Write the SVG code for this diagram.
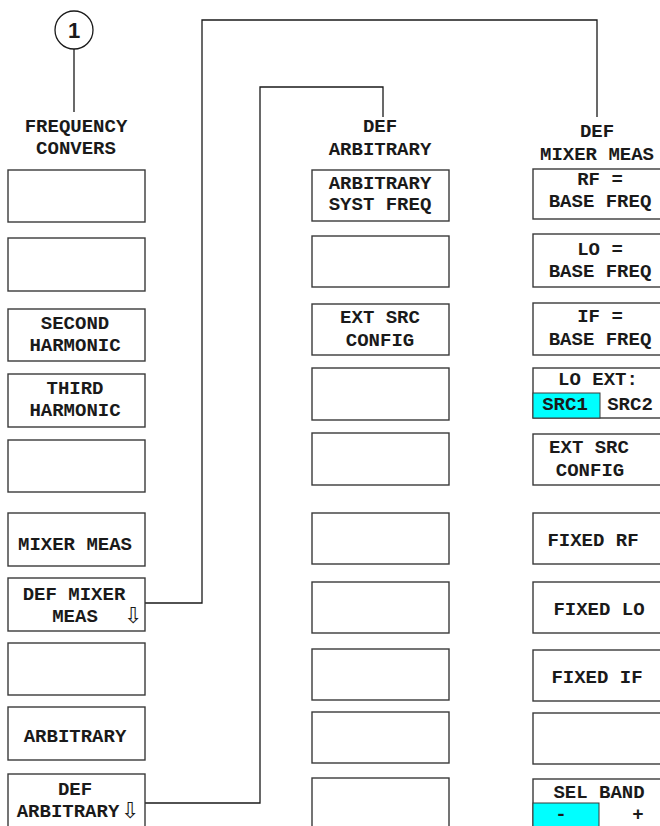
<svg xmlns="http://www.w3.org/2000/svg" width="660" height="826" viewBox="0 0 660 826">
<style>
.box{fill:#fff;stroke:#3a3a3a;stroke-width:1.4}
.t{font-family:"Liberation Mono","Courier New",monospace;font-weight:bold;font-size:19px;fill:#1a1a1a;text-anchor:middle}
.a{font-family:"DejaVu Sans",sans-serif;font-size:22px;fill:#1a1a1a;text-anchor:middle}
.hl{fill:#00ffff;stroke:#3a3a3a;stroke-width:1}
.c{fill:none;stroke:#1a1a1a;stroke-width:1.3}
</style>
<rect width="660" height="826" fill="#fff"/>
<g id="marker1">
<circle cx="74" cy="30" r="19" fill="#fff" stroke="#1a1a1a" stroke-width="1.3"/>
<text x="74" y="38" font-family="Liberation Sans,Arial,sans-serif" font-weight="bold" font-size="22" text-anchor="middle" fill="#1a1a1a">1</text>
<line x1="74" y1="49" x2="74" y2="112" stroke="#1a1a1a" stroke-width="1.3"/>
</g>
<g id="connectors">
<polyline class="c" points="145,603 202,603 202,20 597,20 597,117"/>
<polyline class="c" points="145,803 260,803 260,87 383,87 383,117"/>
</g>
<g id="title-freq"><text class="t" x="76" y="132">FREQUENCY</text><text class="t" x="76" y="154">CONVERS</text></g>
<g id="title-defarb"><text class="t" x="380" y="132">DEF</text><text class="t" x="380" y="155">ARBITRARY</text></g>
<g id="title-defmix"><text class="t" x="597" y="137">DEF</text><text class="t" x="597" y="160">MIXER MEAS</text></g>
<!-- left column -->
<g id="l1"><rect class="box" x="8" y="170" width="137" height="52"/></g>
<g id="l2"><rect class="box" x="8" y="238" width="137" height="53"/></g>
<g id="l3"><rect class="box" x="8" y="309" width="137" height="52"/><text class="t" x="75" y="329">SECOND</text><text class="t" x="75" y="351">HARMONIC</text></g>
<g id="l4"><rect class="box" x="8" y="374" width="137" height="53"/><text class="t" x="75" y="394">THIRD</text><text class="t" x="75" y="416">HARMONIC</text></g>
<g id="l5"><rect class="box" x="8" y="440" width="137" height="52"/></g>
<g id="l6"><rect class="box" x="8" y="513" width="137" height="53"/><text class="t" x="75" y="550">MIXER MEAS</text></g>
<g id="l7"><rect class="box" x="8" y="578" width="137" height="53"/><text class="t" x="74" y="600">DEF MIXER</text><text class="t" x="75" y="622">MEAS</text><text class="a" x="133" y="623">⇩</text></g>
<g id="l8"><rect class="box" x="8" y="643" width="137" height="52"/></g>
<g id="l9"><rect class="box" x="8" y="707" width="137" height="53"/><text class="t" x="75" y="742">ARBITRARY</text></g>
<g id="l10"><rect class="box" x="8" y="774" width="137" height="70"/><text class="t" x="75" y="795">DEF</text><text class="t" x="68" y="817">ARBITRARY</text><text class="a" x="130" y="818">⇩</text></g>
<!-- middle column -->
<g id="m1"><rect class="box" x="312" y="170" width="137" height="51"/><text class="t" x="380" y="189">ARBITRARY</text><text class="t" x="380" y="210">SYST FREQ</text></g>
<g id="m2"><rect class="box" x="312" y="236" width="137" height="51"/></g>
<g id="m3"><rect class="box" x="312" y="304" width="137" height="51"/><text class="t" x="380" y="323">EXT SRC</text><text class="t" x="380" y="346">CONFIG</text></g>
<g id="m4"><rect class="box" x="312" y="368" width="137" height="52"/></g>
<g id="m5"><rect class="box" x="312" y="433" width="137" height="52"/></g>
<g id="m6"><rect class="box" x="312" y="513" width="137" height="51"/></g>
<g id="m7"><rect class="box" x="312" y="582" width="137" height="51"/></g>
<g id="m8"><rect class="box" x="312" y="649" width="137" height="51"/></g>
<g id="m9"><rect class="box" x="312" y="712" width="137" height="51"/></g>
<g id="m10"><rect class="box" x="312" y="778" width="137" height="70"/></g>
<!-- right column -->
<g id="r1"><rect class="box" x="533" y="169" width="137" height="50"/><text class="t" x="600" y="185">RF =</text><text class="t" x="600" y="207">BASE FREQ</text></g>
<g id="r2"><rect class="box" x="533" y="234" width="137" height="53"/><text class="t" x="600" y="255">LO =</text><text class="t" x="600" y="277">BASE FREQ</text></g>
<g id="r3"><rect class="box" x="533" y="303" width="137" height="52"/><text class="t" x="600" y="322">IF =</text><text class="t" x="600" y="345">BASE FREQ</text></g>
<g id="r4"><rect class="box" x="533" y="368" width="137" height="50"/><rect class="hl" x="533" y="393" width="67" height="25"/><text class="t" x="598" y="385">LO EXT:</text><text class="t" x="565" y="410">SRC1</text><text class="t" x="630" y="410">SRC2</text></g>
<g id="r5"><rect class="box" x="533" y="434" width="137" height="51"/><text class="t" x="589" y="453">EXT SRC</text><text class="t" x="590" y="476">CONFIG</text></g>
<g id="r6"><rect class="box" x="533" y="513" width="137" height="51"/><text class="t" x="593" y="546">FIXED RF</text></g>
<g id="r7"><rect class="box" x="533" y="582" width="137" height="51"/><text class="t" x="599" y="615">FIXED LO</text></g>
<g id="r8"><rect class="box" x="533" y="650" width="137" height="51"/><text class="t" x="597" y="683">FIXED IF</text></g>
<g id="r9"><rect class="box" x="533" y="713" width="137" height="51"/></g>
<g id="r10"><rect class="box" x="533" y="779" width="137" height="70"/><rect class="hl" x="533" y="803" width="66" height="30"/><text class="t" x="599" y="798">SEL BAND</text><text class="t" x="561" y="820">-</text><text class="t" x="638" y="820">+</text></g>
</svg>
